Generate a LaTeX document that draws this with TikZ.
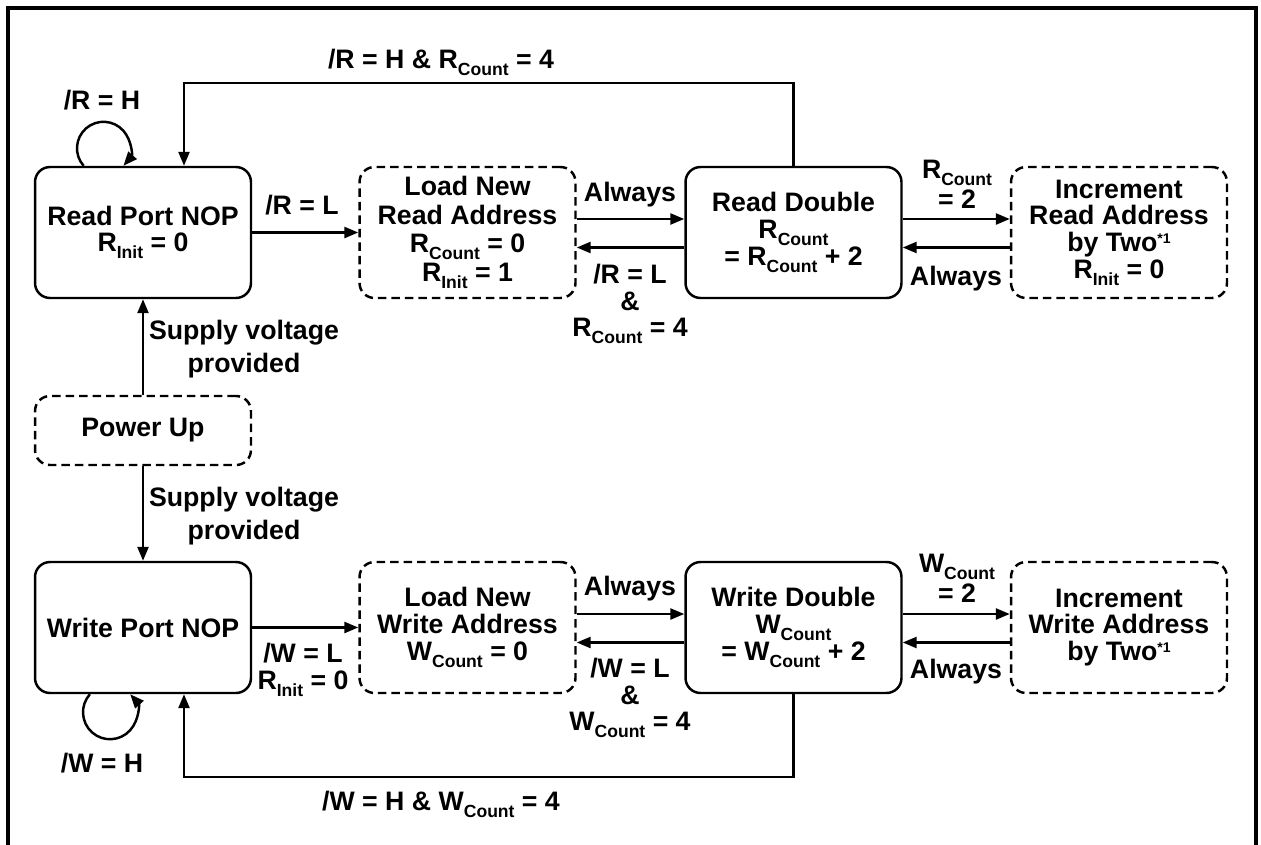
\documentclass[tikz,border=0pt]{standalone}
\usepackage{fontspec}
\setmainfont{Liberation Sans}
\usetikzlibrary{arrows.meta, calc}

\newcommand{\subs}[1]{\raisebox{-4pt}{\fontsize{10}{10}\selectfont #1}}
\newcommand{\sups}[1]{\raisebox{4.8pt}{\fontsize{8}{8}\selectfont #1}}
\setlength{\lineskiplimit}{-30pt}

\tikzset{
	stbox/.style={draw, line width=1.4pt, rounded corners=0.3cm, minimum width=4.32cm, minimum height=2.62cm, align=center, inner sep=0pt},
	tbox/.style={stbox, dash pattern=on 0.17cm off 0.1cm},
	lbl/.style={align=center, inner sep=0pt},
	conn/.style={line width=1.4pt, -{Triangle[length=0.28cm, width=0.22cm]}},
	wide/.style={font=\bfseries\fontsize{15.2}{18.7}\selectfont},
	loose/.style={font=\bfseries\fontsize{15.2}{16.2}\selectfont},
	looser/.style={font=\bfseries\fontsize{15.2}{17.2}\selectfont},
}

\begin{document}
\begin{tikzpicture}[x=0.02cm, y=-0.02cm, font=\bfseries\fontsize{15.2}{15.2}\selectfont]
		\useasboundingbox (0,0) rectangle (1261,845);
		\draw[line width=2pt] (8,845) -- (8,8) -- (1256,8) -- (1256,845);
		% read port
		\node[stbox] (rnop) at (143,232.5) {Read Port NOP\\R\subs{Init} = 0};
		\node[tbox, loose] (lrd) at (467.5,232.5) {Load New\\Read Address\\R\subs{Count} = 0\\R\subs{Init} = 1};
		\node[stbox] (rdbl) at (793.5,232.5) {Read Double\\R\subs{Count}\\= R\subs{Count} + 2};
		\node[tbox] (ird) at (1119,232.5) {Increment\\Read Address\\by Two\sups{*1}\\R\subs{Init} = 0};
		\node[tbox, minimum height=1.38cm] (pwr) at (143,430.5) {Power Up};
		% write port
		\node[stbox] (wnop) at (143,627.5) {Write Port NOP};
		\node[tbox] (lwr) at (467.5,627.5) {Load New\\Write Address\\W\subs{Count} = 0};
		\node[stbox] (wdbl) at (793.5,627.5) {Write Double\\W\subs{Count}\\= W\subs{Count} + 2};
		\node[tbox] (iwr) at (1119,627.5) {Increment\\Write Address\\by Two\sups{*1}};

		\draw[conn] (rnop) -- (lrd);
		\draw[conn] (wnop) -- (lwr);
		\draw[conn] (pwr) -- (rnop);
		\draw[conn] (pwr) -- (wnop);
		\foreach \a/\b in {lrd/rdbl, rdbl/ird, lwr/wdbl, wdbl/iwr}{
			\draw[conn] ([yshift=0.27cm]\a.east) -- ([yshift=0.27cm]\b.west);
			\draw[conn] ([yshift=-0.3cm]\b.west) -- ([yshift=-0.3cm]\a.east);
		}
		\draw[conn] (rdbl.north) -- ++(0,-83) -| ($(rnop.north)+(41,0)$);
		\draw[conn] (wdbl.south) -- ++(0,83) -| ($(wnop.south)+(41,0)$);
		\draw[conn] ($(rnop.north)+(-59.4,0)$) arc[start angle=138.7, end angle=401.3, radius=26.5];
		\draw[conn] ($(wnop.south)+(-53.1,0)$) arc[start angle=221.8, end angle=-41.8, radius=27];

		% labels
		\node[lbl, anchor=base] (ltop) at (441,68) {/R = H \& R\subs{Count} = 4};
		\node[lbl, anchor=base] (lrh) at (102,109) {/R = H};
		\node[lbl, anchor=base] (lrl) at (302,214) {/R = L};
		\node[lbl, anchor=base] (lra1) at (630,201) {Always};
		\node[lbl] (lrl2) at (630,304) {/R = L\\\&\\R\subs{Count} = 4};
		\node[lbl, looser] (lrc) at (957,184) {R\subs{Count}\\= 2};
		\node[lbl, anchor=base] (lra2) at (956,285) {Always};
		\node[lbl, wide] (lsup1) at (244,349) {Supply voltage\\provided};
		\node[lbl, wide] (lsup2) at (244,516) {Supply voltage\\provided};
		\node[lbl] (lwl) at (303,670) {/W = L\\R\subs{Init} = 0};
		\node[lbl, anchor=base] (lwa1) at (630,595) {Always};
		\node[lbl] (lwl2) at (630,698) {/W = L\\\&\\W\subs{Count} = 4};
		\node[lbl, looser] (lwc) at (957,578) {W\subs{Count}\\= 2};
		\node[lbl, anchor=base] (lwa2) at (956,678) {Always};
		\node[lbl, anchor=base] (lwh) at (102,772) {/W = H};
		\node[lbl, anchor=base] (lbot) at (441,810) {/W = H \& W\subs{Count} = 4};
	\end{tikzpicture}
\end{document}
